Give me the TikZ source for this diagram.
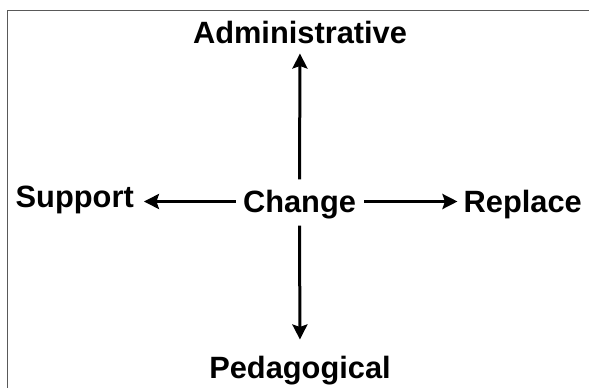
\documentclass[tikz,border=0pt]{standalone}
\usepackage{fontspec}
\setmainfont{Liberation Sans}
\usetikzlibrary{arrows.meta}
\begin{document}
\begin{tikzpicture}[x=1pt,y=-1pt,
  lbl/.style={font=\bfseries\fontsize{30.8}{36}\selectfont, inner sep=0pt},
  arr/.style={line width=3pt, -{Stealth[length=15pt,width=15pt,inset=2.5pt]}},
  frame/.style={draw=black!65, line width=1.2pt}]
\useasboundingbox (0,0) rectangle (589,388);
\draw[frame] (7.5,400) -- (7.5,10.8) -- (600,10.8);
\node[lbl, anchor=base] (adm) at (300,43) {Administrative};
\node[lbl, anchor=base] (chg) at (299.5,212) {Change};
\node[lbl, anchor=base] (ped) at (300,378) {Pedagogical};
\node[lbl, anchor=base west] (sup) at (15.5,207) {Support};
\node[lbl, anchor=base east] (rep) at (582,212.5) {Replace};
\path ([yshift=10.5pt]chg.base) coordinate (hc);
\draw[arr, shorten <=7pt, shorten >=10pt] (chg.west |- hc) -- (sup.east |- hc);
\draw[arr, shorten <=8pt, shorten >=6pt] (chg.east |- hc) -- (rep.west |- hc);
\draw[arr, shorten <=10pt, shorten >=10pt] (chg.north) -- (adm.south);
\draw[arr, shorten <=7pt, shorten >=16pt] (chg.south) -- (ped.north);
\end{tikzpicture}
\end{document}
